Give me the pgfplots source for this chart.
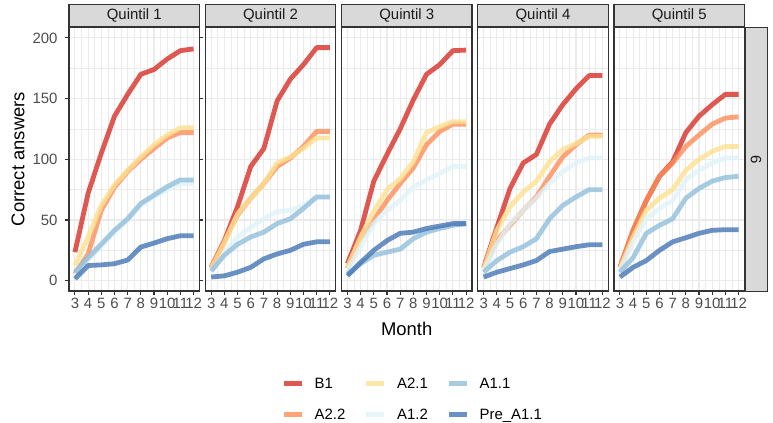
\documentclass[border=0pt]{standalone}
\usepackage{pgfplots}
\pgfplotsset{compat=1.18}
\usepackage{pgfplotstable}
\usepackage{graphicx}
\usepackage{fontspec}
\setmainfont{Liberation Sans}

\definecolor{cB1}{HTML}{D73027}
\definecolor{cA22}{HTML}{FC8D59}
\definecolor{cA21}{HTML}{FEE090}
\definecolor{cA12}{HTML}{E0F3F8}
\definecolor{cA11}{HTML}{91BFDB}
\definecolor{cPre}{HTML}{4575B4}
\definecolor{grey20}{HTML}{333333}
\definecolor{grey30}{HTML}{4D4D4D}
\definecolor{grey85}{HTML}{D9D9D9}
\definecolor{grey10}{HTML}{1A1A1A}
\definecolor{gridc}{HTML}{EBEBEB}

\pgfplotstableread{
m B1 A22 A21 A12 A11 Pre
3 23.5 5.5 12.5 4 7 1.5
4 72 22 36 17 19 12.5
5 105 58 62 29 30 13
6 135.5 77 79 40 41.5 14
7 153.5 90 91 50 51 17
8 170 100 102 62 63.6 27.7
9 174 109 112 69 70.5 31
10 182.6 117.6 120 75 77.5 34.6
11 189.5 122 126 80 83 37
12 191 122 126 80 83 37
}\qone
\pgfplotstableread{
m B1 A22 A21 A12 A11 Pre
3 11 11 10 8 8 3
4 33 33 31 22 21 4
5 61 54 55 36 30 7
6 94 68 68 44 36 11
7 109 80 80 51 40 18
8 148 94 97 57 47 22
9 166 101 102 58 51 25
10 178 110.6 109 62 59.5 30
11 192 123 117.6 69 69 32
12 192 123 117.6 69 69 32
}\qtwo
\pgfplotstableread{
m B1 A22 A21 A12 A11 Pre
3 14 10 11 8 5.5 4
4 41.5 35 36 28 14 15
5 82 50 57 47 21 25
6 104 66 75 58 23.5 33
7 125 80 84 66 26 39
8 149 93 98 77.5 34.6 40
9 170 112 122 83 40 43
10 178 123 127 88.5 43 45
11 189.5 129 131 94 45.6 47
12 190 129 131 94 47 47
}\qthree
\pgfplotstableread{
m B1 A22 A21 A12 A11 Pre
3 11 10 10 8 7 3
4 44 33 41.5 30 16.6 7
5 76 45.6 61 47 23.5 10
6 97 58 73 58 28 13
7 104 69 82 68 34.6 16.6
8 129 86 98 80 51 24
9 145 102 108 90 62 26
10 158 112 113 97 69 28
11 169 120 119 101 75 29.6
12 169 120 119 101 75 29.6
}\qfour
\pgfplotstableread{
m B1 A22 A21 A12 A11 Pre
3 11 11 10 8 7 3
4 41.5 41.5 36 32 19 11
5 66 66 58 51 39 16.6
6 86 86 68 59.5 45.6 25
7 98 97 75 66 51 32
8 122 110.6 91 83 68 35.4
9 135.5 120 100 91 76 39
10 145 129 106.5 97 82 41.5
11 153.5 134 110.6 101 85 42
12 153.5 135 110.6 101 86 42
}\qfive

\newcommand{\ticksize}{\fontsize{15}{18}\selectfont}
\newcommand{\titlesize}{\fontsize{18.5}{22}\selectfont}

\pgfplotsset{
  panel/.style={
    scale only axis, width=130.5bp, height=264bp,
    anchor=north west,
    xmin=2.55, xmax=12.45, ymin=-8.5, ymax=209,
    xtick={3,...,12}, minor xtick={3.5,4.5,...,11.5},
    ytick={0,50,...,200}, minor ytick={25,75,125,175},
    grid=both,
    major grid style={draw=gridc, line width=1.1bp},
    minor grid style={draw=gridc, line width=0.55bp},
    axis line style={draw=grey20, line width=1.1bp},
    tick align=outside, major tick length=4bp, minor tick length=0pt,
    tick style={draw=grey20, line width=1.1bp},
    xticklabel style={font=\ticksize, text=grey30},
    yticklabel style={font=\ticksize, text=grey30, xshift=-4bp},
    /pgf/number format/assume math mode=true,
    every axis title shift=0pt,
    title style={at={(rel axis cs:0.5,1)}, anchor=south, draw=grey20, fill=grey85,
      line width=1.1bp, minimum width=130.5bp, minimum height=22bp, inner sep=0pt,
      font=\ticksize, text=grey10},
    every axis plot/.append style={line width=4.8bp, line join=round, opacity=0.8},
  },
}

\newcommand{\panelplots}[1]{%
  \addplot[cB1, forget plot] table[x=m,y=B1]{#1};
  \addplot[cA22, forget plot] table[x=m,y=A22]{#1};
  \addplot[cA21, forget plot] table[x=m,y=A21]{#1};
  \addplot[cA12, forget plot] table[x=m,y=A12]{#1};
  \addplot[cA11, forget plot] table[x=m,y=A11]{#1};
  \addplot[cPre, forget plot] table[x=m,y=Pre]{#1};
}

\begin{document}
\begin{tikzpicture}[x=1bp,y=1bp]
\begin{axis}[panel, at={(69bp,-27bp)}, title={Quintil 1},
  ylabel={Correct answers},
  every axis y label/.style={at={(axis description cs:-0.3908,0.5)}, anchor=center, rotate=90, font=\titlesize}]
\panelplots{\qone}
\end{axis}
\begin{axis}[panel, at={(205.25bp,-27bp)}, title={Quintil 2}, ymajorticks=false]
\panelplots{\qtwo}
\end{axis}
\begin{axis}[panel, at={(341.5bp,-27bp)}, title={Quintil 3}, ymajorticks=false,
  xlabel={Month},
  every axis x label/.style={at={(axis description cs:0.5,0)}, anchor=center, yshift=-38bp, font=\titlesize},
  legend columns=3,
  legend style={at={(axis description cs:0.545,-0.41)}, anchor=center, draw=none, fill=none,
    font=\ticksize, row sep=15bp,
    /tikz/every odd column/.append style={column sep=8.5bp},
    /tikz/every even column/.append style={column sep=16.5bp},
    nodes={inner sep=2bp}},
  legend cell align=left,
  legend image code/.code={\draw[#1] (0bp,0bp) -- (18bp,0bp);}]
\panelplots{\qthree}
\addlegendimage{cB1, line width=4.8bp, opacity=0.8}\addlegendentry{B1}
\addlegendimage{cA21, line width=4.8bp, opacity=0.8}\addlegendentry{A2.1}
\addlegendimage{cA11, line width=4.8bp, opacity=0.8}\addlegendentry{A1.1}
\addlegendimage{cA22, line width=4.8bp, opacity=0.8}\addlegendentry{A2.2}
\addlegendimage{cA12, line width=4.8bp, opacity=0.8}\addlegendentry{A1.2}
\addlegendimage{cPre, line width=4.8bp, opacity=0.8}\addlegendentry{Pre\_A1.1}
\end{axis}
\begin{axis}[panel, at={(477.75bp,-27bp)}, title={Quintil 4}, ymajorticks=false]
\panelplots{\qfour}
\end{axis}
\begin{axis}[panel, at={(614bp,-27bp)}, title={Quintil 5}, ymajorticks=false, name=p5]
\panelplots{\qfive}
\end{axis}
\node[draw=grey20, fill=grey85, line width=1.1bp, minimum width=22bp, minimum height=264bp,
  anchor=north west, inner sep=0pt, font=\ticksize, text=grey10] at (p5.north east) {\rotatebox{-90}{6}};
\pgfresetboundingbox
\path (0bp,0bp) rectangle (773bp,-423bp);
\end{tikzpicture}
\end{document}
